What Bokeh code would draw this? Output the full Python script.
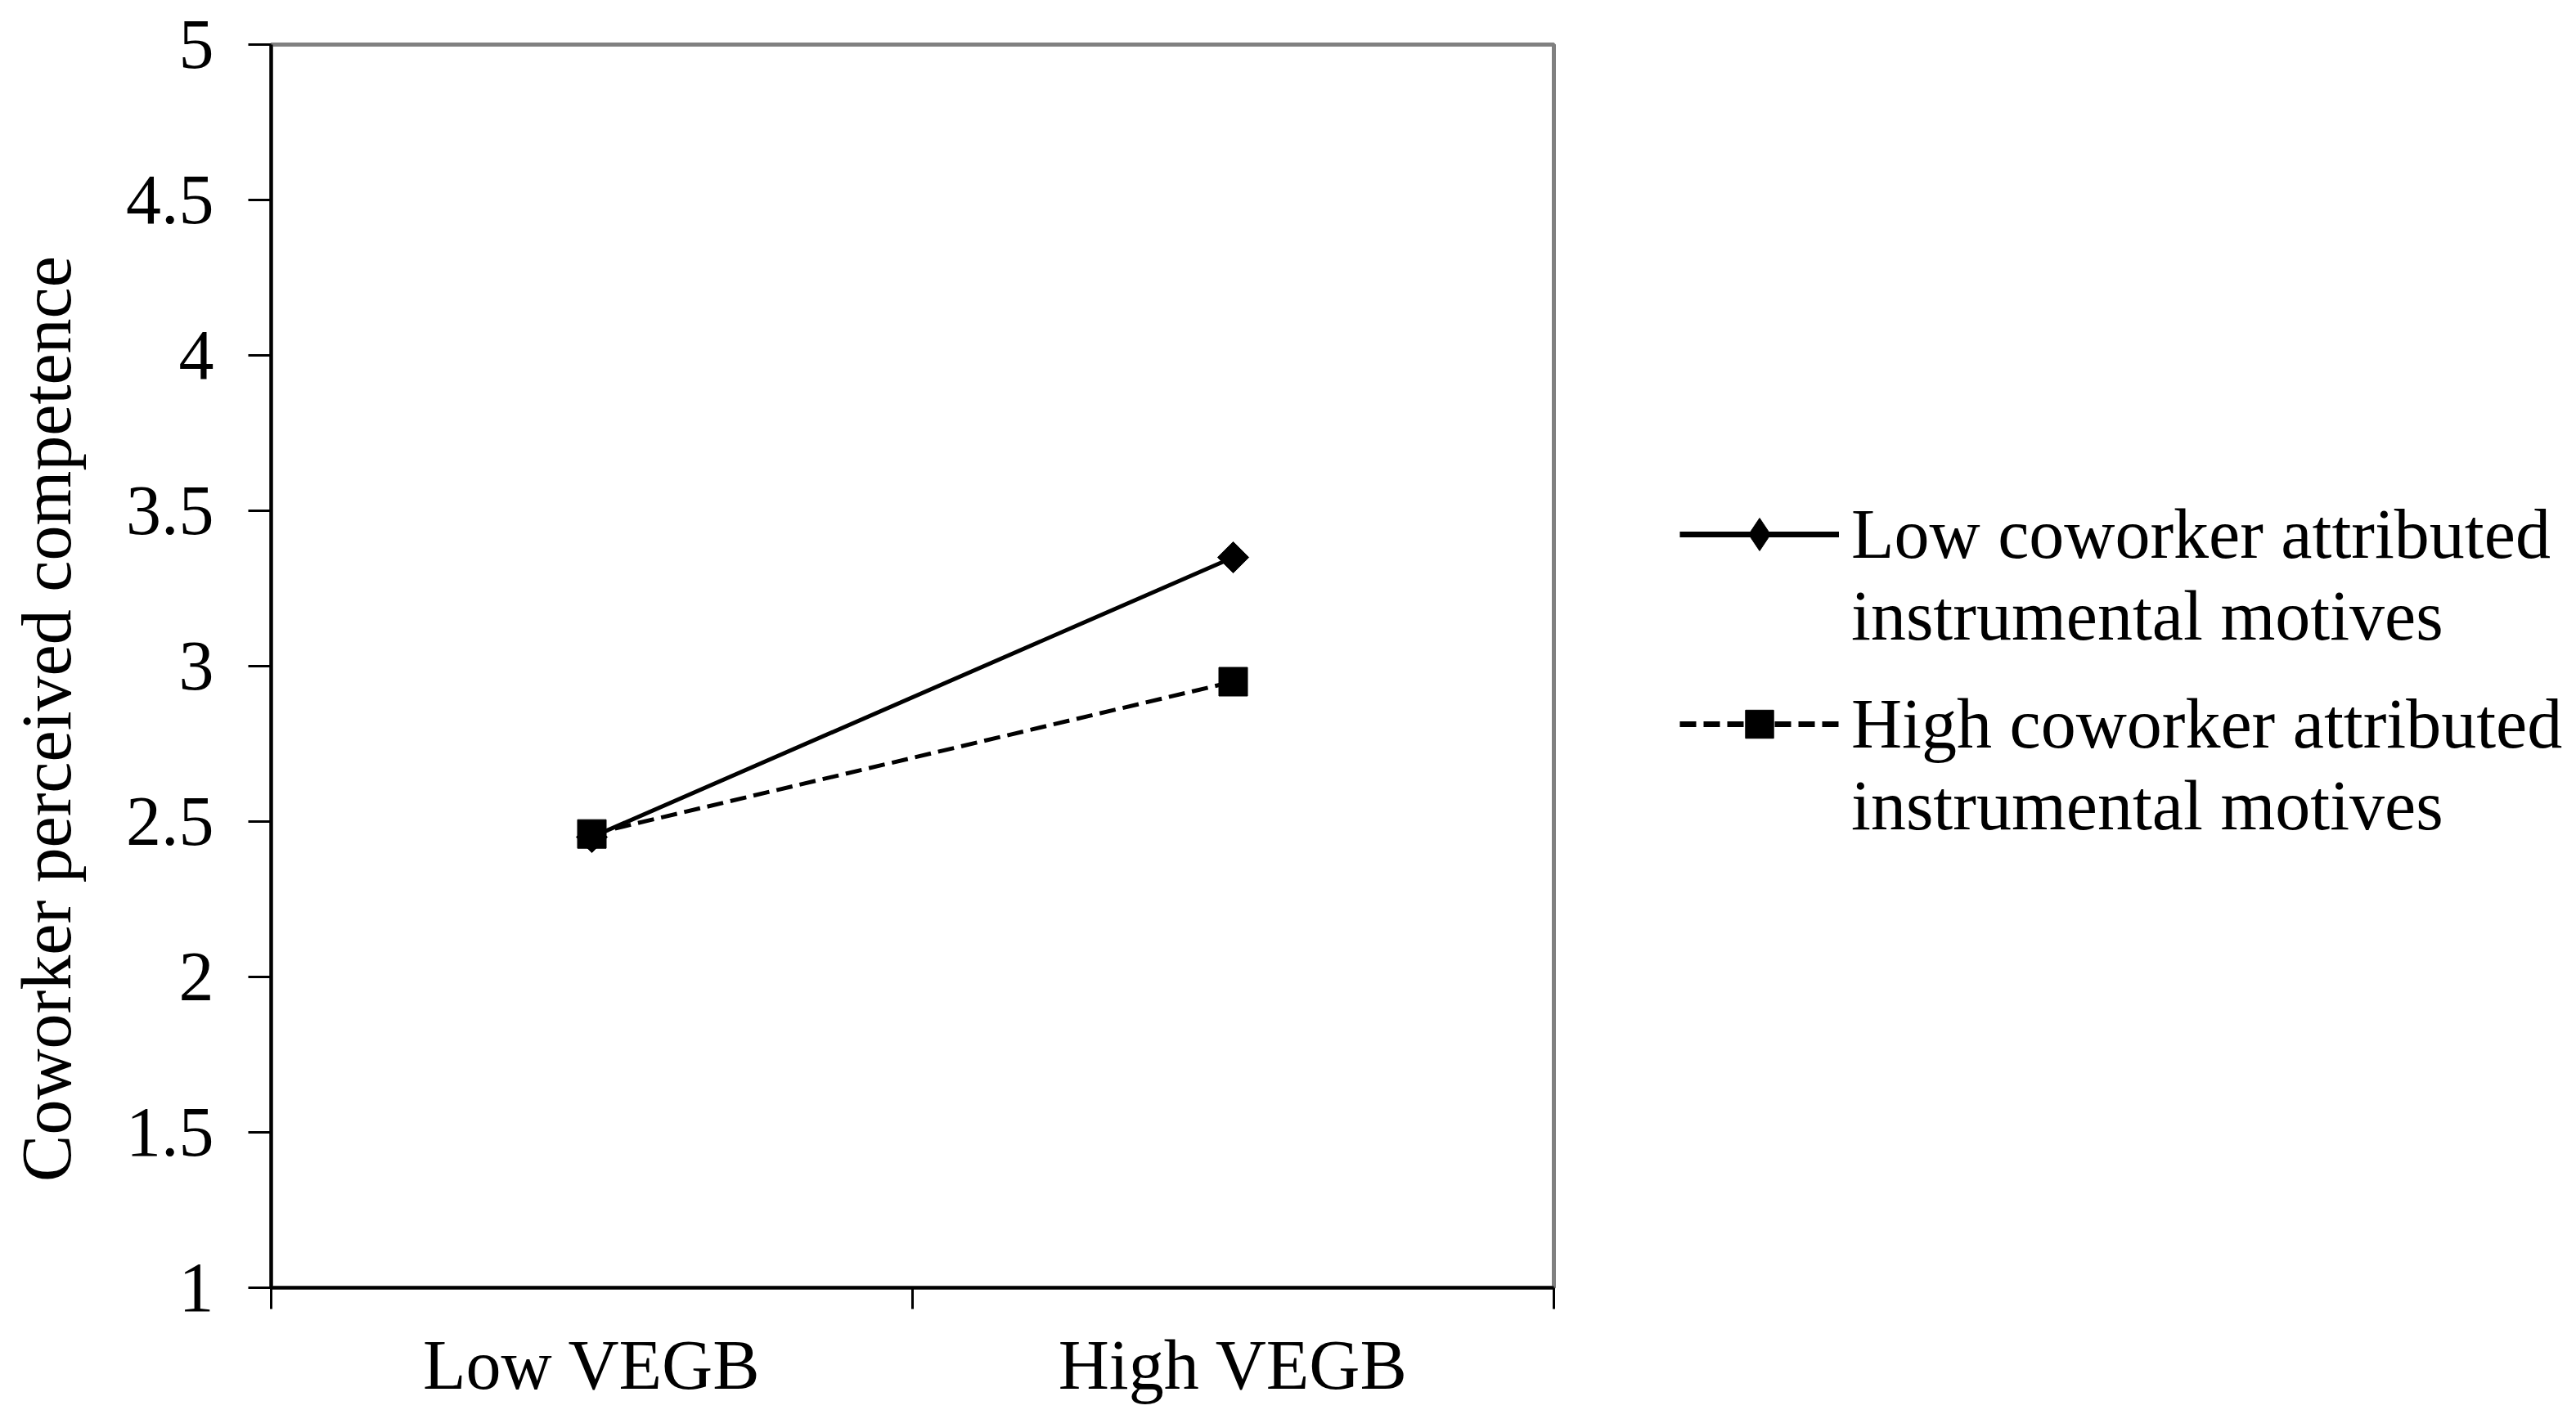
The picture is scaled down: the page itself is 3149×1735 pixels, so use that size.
import math
from bokeh.plotting import figure
from bokeh.layouts import row
from bokeh.models import Range1d, FixedTicker, Legend, LegendItem
from bokeh.embed import file_html
from bokeh.resources import INLINE

# ---- data ----
categories = ["Low VEGB", "High VEGB"]
low_motives = [2.45, 3.35]
high_motives = [2.46, 2.95]
series_names = ["Low coworker attributed", "High coworker attributed"]
second_line = "instrumental motives"
y_ticks = [1, 1.5, 2, 2.5, 3, 3.5, 4, 4.5, 5]
y_tick_labels = ["1", "1.5", "2", "2.5", "3", "3.5", "4", "4.5", "5"]
y_title = "Coworker perceived competence"

FONT = "Liberation Serif"
FS = "86px"
DASH = "20 9"

xs = [i + 0.5 for i in range(len(categories))]

P_W = 331 + 1568 + 5
p = figure(width=P_W, height=1719, output_backend="svg", toolbar_location=None,
           x_range=Range1d(0, len(categories)), y_range=Range1d(1, 5),
           min_border_left=331, min_border_right=5, min_border_top=54,
           min_border_bottom=139)
p.background_fill_color = "white"
p.border_fill_color = "white"
p.grid.visible = False
p.outline_line_color = "#808080"
p.outline_line_width = 5

# x axis: labels centred in each category, ticks on the category boundaries
xa = p.xaxis[0]
xa.ticker = FixedTicker(ticks=xs, minor_ticks=list(range(len(categories) + 1)))
xa.major_label_overrides = {x: c for x, c in zip(xs, categories)}
xa.major_tick_out = 0
xa.major_tick_in = 0
xa.minor_tick_out = 26
xa.minor_tick_in = 0
xa.minor_tick_line_color = "black"
xa.minor_tick_line_width = 3
xa.axis_line_color = "black"
xa.axis_line_width = 4
xa.major_label_text_font = FONT
xa.major_label_text_font_size = FS
xa.major_label_text_color = "black"
xa.major_label_standoff = 20

# y axis
ya = p.yaxis[0]
ya.ticker = FixedTicker(ticks=y_ticks)
ya.major_label_overrides = {t: l for t, l in zip(y_ticks, y_tick_labels)}
ya.major_tick_out = 28
ya.major_tick_in = 0
ya.major_tick_line_color = "black"
ya.major_tick_line_width = 3
ya.minor_tick_line_color = None
ya.axis_line_color = "black"
ya.axis_line_width = 4
ya.major_label_text_font = FONT
ya.major_label_text_font_size = FS
ya.major_label_text_color = "black"
ya.major_label_standoff = 42
# trailing no-break spaces shift the centred title a little toward the bottom, as in the original
ya.axis_label = y_title + "\u00a0" * 6
ya.axis_label_text_font = FONT
ya.axis_label_text_font_size = FS
ya.axis_label_text_font_style = "normal"
ya.axis_label_text_color = "black"
ya.axis_label_standoff = 46

# series
p.line(xs, low_motives, line_color="black", line_width=5)
p.scatter(xs, low_motives, marker="square", angle=math.pi / 4, size=27,
          fill_color="black", line_color="black")
p.line(xs, high_motives, line_color="black", line_width=5, line_dash=DASH)
p.scatter(xs, high_motives, marker="square", size=35,
          fill_color="black", line_color="black")

# ---- legend panel to the right (its ranges keep the copies of the series out of view) ----
p2 = figure(width=3133 - P_W, height=1719, output_backend="svg", toolbar_location=None,
            x_axis_type=None, y_axis_type=None, min_border=0,
            x_range=Range1d(100, 101), y_range=Range1d(100, 101))
p2.outline_line_color = None
p2.grid.visible = False
p2.background_fill_color = "white"
p2.border_fill_color = "white"

g1l = p2.line(xs, low_motives, line_color="black", line_width=7)
g1m = p2.scatter(xs, low_motives, marker="diamond", fill_color="black", line_color="black")
g2l = p2.line(xs, high_motives, line_color="black", line_width=7, line_dash=DASH)
g2m = p2.scatter(xs, high_motives, marker="square", fill_color="black", line_color="black")
blank = p2.line(xs, low_motives, line_alpha=0)


def make_legend(items, loc, gh):
    lg = Legend(items=items, location=loc, orientation="vertical")
    lg.label_text_font = FONT
    lg.label_text_font_size = FS
    lg.label_text_color = "black"
    lg.glyph_width = 195
    lg.glyph_height = gh
    lg.label_height = 100
    lg.label_standoff = 15
    lg.spacing = 0
    lg.padding = 0
    lg.margin = 0
    lg.border_line_alpha = 0
    lg.background_fill_alpha = 0
    return lg


p2.add_layout(make_legend([LegendItem(label=series_names[0], renderers=[g1l, g1m]),
                           LegendItem(label=second_line, renderers=[blank])], (149, 771), 100))
p2.add_layout(make_legend([LegendItem(label=series_names[1], renderers=[g2l, g2m]),
                           LegendItem(label=second_line, renderers=[blank])], (149, 539), 86))

layout = row(p, p2)
open("out.html", "w").write(file_html(layout, INLINE))
